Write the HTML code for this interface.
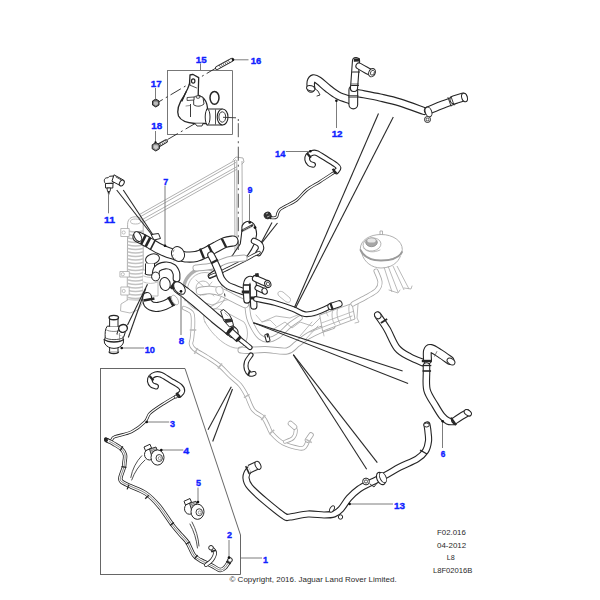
<!DOCTYPE html>
<html><head><meta charset="utf-8"><style>
html,body{margin:0;padding:0;background:#fff;width:600px;height:600px;overflow:hidden}
svg{display:block}
text{font-family:"Liberation Sans",sans-serif}
</style></head><body>
<svg width="600" height="600" viewBox="0 0 600 600">
<rect width="600" height="600" fill="#fff"/>
<line x1="140" y1="214.2" x2="236" y2="159.7" stroke="#a8a8a8" stroke-width="0.9"/>
<line x1="140" y1="216.9" x2="236" y2="162.4" stroke="#a8a8a8" stroke-width="0.9"/>
<line x1="141.5" y1="220" x2="237" y2="166.6" stroke="#a8a8a8" stroke-width="0.9"/>
<line x1="142.5" y1="222.6" x2="237" y2="169.2" stroke="#a8a8a8" stroke-width="0.9"/>
<line x1="234.5" y1="160" x2="235" y2="252" stroke="#a8a8a8" stroke-width="0.9"/>
<line x1="236.8" y1="160" x2="237" y2="250" stroke="#a8a8a8" stroke-width="0.9"/>
<line x1="242" y1="161" x2="242.5" y2="248" stroke="#a8a8a8" stroke-width="0.9"/>
<path d="M233,160 L236,157 L243,158 L244,162 L242,164" stroke="#a8a8a8" stroke-width="0.9" fill="none" stroke-linejoin="round" stroke-linecap="round"/>
<path d="M127.6,224 C127.6,219 131,216.8 135.5,216.8 C140,216.8 143.2,219 143.2,224 L143.2,300 L127.6,300 Z" stroke="#a8a8a8" stroke-width="0.9" fill="#fff" stroke-linejoin="round" stroke-linecap="round"/>
<ellipse cx="135.5" cy="221.5" rx="5" ry="2.5" stroke="#a8a8a8" stroke-width="0.8" fill="#fff"/>
<path d="M128.3,231.0 Q135.5,233.2 142.7,231.0" stroke="#c2c2c2" stroke-width="1.5" fill="none" stroke-linejoin="round" stroke-linecap="round"/>
<path d="M128.3,234.5 Q135.5,236.7 142.7,234.5" stroke="#c2c2c2" stroke-width="1.5" fill="none" stroke-linejoin="round" stroke-linecap="round"/>
<path d="M128.3,238.0 Q135.5,240.2 142.7,238.0" stroke="#c2c2c2" stroke-width="1.5" fill="none" stroke-linejoin="round" stroke-linecap="round"/>
<path d="M128.3,241.5 Q135.5,243.7 142.7,241.5" stroke="#c2c2c2" stroke-width="1.5" fill="none" stroke-linejoin="round" stroke-linecap="round"/>
<path d="M128.3,245.0 Q135.5,247.2 142.7,245.0" stroke="#c2c2c2" stroke-width="1.5" fill="none" stroke-linejoin="round" stroke-linecap="round"/>
<path d="M128.3,248.5 Q135.5,250.7 142.7,248.5" stroke="#c2c2c2" stroke-width="1.5" fill="none" stroke-linejoin="round" stroke-linecap="round"/>
<path d="M128.3,252.0 Q135.5,254.2 142.7,252.0" stroke="#c2c2c2" stroke-width="1.5" fill="none" stroke-linejoin="round" stroke-linecap="round"/>
<path d="M128.3,255.5 Q135.5,257.7 142.7,255.5" stroke="#c2c2c2" stroke-width="1.5" fill="none" stroke-linejoin="round" stroke-linecap="round"/>
<path d="M128.3,259.0 Q135.5,261.2 142.7,259.0" stroke="#c2c2c2" stroke-width="1.5" fill="none" stroke-linejoin="round" stroke-linecap="round"/>
<path d="M128.3,262.5 Q135.5,264.7 142.7,262.5" stroke="#c2c2c2" stroke-width="1.5" fill="none" stroke-linejoin="round" stroke-linecap="round"/>
<path d="M128.3,266.0 Q135.5,268.2 142.7,266.0" stroke="#c2c2c2" stroke-width="1.5" fill="none" stroke-linejoin="round" stroke-linecap="round"/>
<path d="M128.3,269.5 Q135.5,271.7 142.7,269.5" stroke="#c2c2c2" stroke-width="1.5" fill="none" stroke-linejoin="round" stroke-linecap="round"/>
<path d="M128.3,273.0 Q135.5,275.2 142.7,273.0" stroke="#c2c2c2" stroke-width="1.5" fill="none" stroke-linejoin="round" stroke-linecap="round"/>
<path d="M128.3,276.5 Q135.5,278.7 142.7,276.5" stroke="#c2c2c2" stroke-width="1.5" fill="none" stroke-linejoin="round" stroke-linecap="round"/>
<path d="M128.3,280.0 Q135.5,282.2 142.7,280.0" stroke="#c2c2c2" stroke-width="1.5" fill="none" stroke-linejoin="round" stroke-linecap="round"/>
<path d="M128.3,283.5 Q135.5,285.7 142.7,283.5" stroke="#c2c2c2" stroke-width="1.5" fill="none" stroke-linejoin="round" stroke-linecap="round"/>
<path d="M128.3,287.0 Q135.5,289.2 142.7,287.0" stroke="#c2c2c2" stroke-width="1.5" fill="none" stroke-linejoin="round" stroke-linecap="round"/>
<path d="M128.3,290.5 Q135.5,292.7 142.7,290.5" stroke="#c2c2c2" stroke-width="1.5" fill="none" stroke-linejoin="round" stroke-linecap="round"/>
<path d="M128.3,294.0 Q135.5,296.2 142.7,294.0" stroke="#c2c2c2" stroke-width="1.5" fill="none" stroke-linejoin="round" stroke-linecap="round"/>
<path d="M128.3,297.5 Q135.5,299.7 142.7,297.5" stroke="#c2c2c2" stroke-width="1.5" fill="none" stroke-linejoin="round" stroke-linecap="round"/>
<path d="M121.2,228.5 L129.2,228.5 L129.2,236.5 L121.2,236.5 Z" stroke="#a8a8a8" stroke-width="0.8" fill="#fff" stroke-linejoin="round" stroke-linecap="round"/>
<ellipse cx="123.7" cy="232.5" rx="1.6" ry="1.6" stroke="#a8a8a8" stroke-width="0.7" fill="#fff"/>
<path d="M120.3,271.5 L129.3,271.5 L129.3,277.0 L120.3,277.0 Z" stroke="#a8a8a8" stroke-width="0.8" fill="#fff" stroke-linejoin="round" stroke-linecap="round"/>
<ellipse cx="122.8" cy="274.25" rx="1.6" ry="1.6" stroke="#a8a8a8" stroke-width="0.7" fill="#fff"/>
<path d="M121.2,287 L129.2,287 L129.2,295 L121.2,295 Z" stroke="#a8a8a8" stroke-width="0.8" fill="#fff" stroke-linejoin="round" stroke-linecap="round"/>
<ellipse cx="123.7" cy="291.0" rx="1.6" ry="1.6" stroke="#a8a8a8" stroke-width="0.7" fill="#fff"/>
<path d="M127.6,300 L121,304 L120.5,311 L130,313 L138,310 L143.2,302" stroke="#a8a8a8" stroke-width="0.8" fill="#fff" stroke-linejoin="round" stroke-linecap="round"/>
<path d="M143,270 L158,270 L158,296 L143,296" stroke="#a8a8a8" stroke-width="0.8" fill="#fff" stroke-linejoin="round" stroke-linecap="round"/>
<path d="M143.5,276 Q150.5,279 157.5,276 M143.5,282 Q150.5,285 157.5,282" stroke="#a8a8a8" stroke-width="0.7" fill="none" stroke-linejoin="round" stroke-linecap="round"/>
<circle cx="205" cy="290" r="21.5" stroke="#a8a8a8" stroke-width="0.8" fill="#fff"/>
<path d="M186.4,300.75 A21.5,21.5 0 0 1 212.4,269.8" stroke="#b0b0b0" stroke-width="3.4" fill="none"/>
<circle cx="205" cy="290" r="17.5" stroke="#a8a8a8" stroke-width="0.8" fill="none"/>
<circle cx="203" cy="288" r="7" stroke="#a8a8a8" stroke-width="0.8" fill="none"/>
<path d="M196,280 L214,296 M200,296 L212,282" stroke="#a8a8a8" stroke-width="0.7" fill="none" stroke-linejoin="round" stroke-linecap="round"/>
<path d="M241.0,350.0 C242.2,350.1 244.0,350.6 248.0,350.5 C252.0,350.4 258.5,349.4 265.0,349.5 C271.5,349.6 281.7,351.9 287.0,351.0 C292.3,350.1 293.5,346.5 297.0,344.0 C300.5,341.5 304.2,338.3 308.0,336.0 C311.8,333.7 316.0,331.7 320.0,330.0 C324.0,328.3 330.0,326.7 332.0,326.0" stroke="#a8a8a8" stroke-width="7.00" fill="none" stroke-linecap="round" stroke-linejoin="round"/>
<path d="M241.0,350.0 C242.2,350.1 244.0,350.6 248.0,350.5 C252.0,350.4 258.5,349.4 265.0,349.5 C271.5,349.6 281.7,351.9 287.0,351.0 C292.3,350.1 293.5,346.5 297.0,344.0 C300.5,341.5 304.2,338.3 308.0,336.0 C311.8,333.7 316.0,331.7 320.0,330.0 C324.0,328.3 330.0,326.7 332.0,326.0" stroke="#fff" stroke-width="5.20" fill="none" stroke-linecap="round" stroke-linejoin="round"/>
<path d="M247.0,304.0 C247.3,306.3 247.8,313.8 249.0,318.0 C250.2,322.2 252.2,325.8 254.0,329.0 C255.8,332.2 257.7,335.2 260.0,337.0 C262.3,338.8 265.0,340.2 268.0,340.0 C271.0,339.8 274.3,338.5 278.0,336.0 C281.7,333.5 286.3,328.0 290.0,325.0 C293.7,322.0 298.3,319.2 300.0,318.0" stroke="#a8a8a8" stroke-width="5.50" fill="none" stroke-linecap="round" stroke-linejoin="round"/>
<path d="M247.0,304.0 C247.3,306.3 247.8,313.8 249.0,318.0 C250.2,322.2 252.2,325.8 254.0,329.0 C255.8,332.2 257.7,335.2 260.0,337.0 C262.3,338.8 265.0,340.2 268.0,340.0 C271.0,339.8 274.3,338.5 278.0,336.0 C281.7,333.5 286.3,328.0 290.0,325.0 C293.7,322.0 298.3,319.2 300.0,318.0" stroke="#fff" stroke-width="3.80" fill="none" stroke-linecap="round" stroke-linejoin="round"/>
<path d="M205,322 C200,312 210,306 222,310 L244,322 C250,330 248,345 240,348 C228,350 212,335 205,322 Z" stroke="#a8a8a8" stroke-width="0.8" fill="none" stroke-linejoin="round" stroke-linecap="round"/>
<path d="M196,300 L212,305 L226,300 L240,298" stroke="#a8a8a8" stroke-width="0.8" fill="none" stroke-linejoin="round" stroke-linecap="round"/>
<path d="M262,322 L276,316 L290,318 L300,314 L315,316" stroke="#a8a8a8" stroke-width="0.8" fill="none" stroke-linejoin="round" stroke-linecap="round"/>
<path d="M272,330 L285,322 L292,328 L300,322 L312,326 L320,318" stroke="#a8a8a8" stroke-width="0.8" fill="none" stroke-linejoin="round" stroke-linecap="round"/>
<path d="M300,336 L312,322 M305,340 L318,326" stroke="#a8a8a8" stroke-width="0.8" fill="none" stroke-linejoin="round" stroke-linecap="round"/>
<path d="M279,296 C276,293 279,290 283,292 L290,298 C292,302 288,304 285,301 Z" stroke="#a8a8a8" stroke-width="0.8" fill="none" stroke-linejoin="round" stroke-linecap="round"/>
<path d="M256,315 L262,322 L270,320 L276,326" stroke="#a8a8a8" stroke-width="0.7" fill="none" stroke-linejoin="round" stroke-linecap="round"/>
<path d="M200.0,291.0 C201.7,290.8 206.3,289.8 210.0,290.0 C213.7,290.2 218.2,291.2 222.0,292.5 C225.8,293.8 229.2,296.1 233.0,298.0 C236.8,299.9 243.0,303.0 245.0,304.0" stroke="#a8a8a8" stroke-width="8.50" fill="none" stroke-linecap="round" stroke-linejoin="round"/>
<path d="M200.0,291.0 C201.7,290.8 206.3,289.8 210.0,290.0 C213.7,290.2 218.2,291.2 222.0,292.5 C225.8,293.8 229.2,296.1 233.0,298.0 C236.8,299.9 243.0,303.0 245.0,304.0" stroke="#fff" stroke-width="6.70" fill="none" stroke-linecap="round" stroke-linejoin="round"/>
<ellipse cx="219.5" cy="290.5" rx="3.5" ry="4.2" stroke="#a8a8a8" stroke-width="0.8" fill="#fff" transform="rotate(-20 219.5 290.5)"/>
<line x1="224.5" y1="293.5" x2="225" y2="296.5" stroke="#333" stroke-width="1.0"/>
<path d="M320,315 L352,303.5 L355,319 L323,331 Z" stroke="#a8a8a8" stroke-width="0.9" fill="#fff" stroke-linejoin="round" stroke-linecap="round"/>
<path d="M321.5,323 L353.5,311.3" stroke="#a8a8a8" stroke-width="0.7" fill="none" stroke-linejoin="round" stroke-linecap="round"/>
<path d="M333,310.5 C331,313 332,321 335,325 M338,308.5 C336,311 337,319 340,323.5" stroke="#a8a8a8" stroke-width="0.8" fill="none" stroke-linejoin="round" stroke-linecap="round"/>
<path d="M349.5,304.5 C348,307 349,315 351,320 M353,303 L356,301 L358,304 L357,318 L359,322 L355,323" stroke="#a8a8a8" stroke-width="0.8" fill="none" stroke-linejoin="round" stroke-linecap="round"/>
<path d="M310,332 L352,316" stroke="#a8a8a8" stroke-width="0.8" fill="none" stroke-linejoin="round" stroke-linecap="round"/>
<path d="M323,331 L324,336 M328,316 L326,312 L330,308" stroke="#a8a8a8" stroke-width="0.7" fill="none" stroke-linejoin="round" stroke-linecap="round"/>
<path d="M362,254 C364,262 372,268 381,268 C391,268 398,263 400.5,256" stroke="#a8a8a8" stroke-width="0.9" fill="#fff" stroke-linejoin="round" stroke-linecap="round"/>
<path d="M360.3,249 C360.3,240 370,234.5 381,234.5 C393,234.5 402.3,241 402.3,249.5 C402.3,256 392,260.5 381,260.5 C370,260.5 360.3,256 360.3,249 Z" fill="#fff" stroke="#a8a8a8" stroke-width="0.9"/>
<path d="M360.5,250 C364,257 372,260.5 381,260.5 C391,260.5 399,258 402,252" stroke="#9a9a9a" stroke-width="1.8" fill="none" stroke-linejoin="round" stroke-linecap="round"/>
<ellipse cx="372" cy="244.5" rx="9" ry="6.5" stroke="#a8a8a8" stroke-width="0.8" fill="none" transform="rotate(-8 372 244.5)"/>
<path d="M363.5,248 C367,252.5 374,253 380,250" stroke="#a8a8a8" stroke-width="0.8" fill="none" stroke-linejoin="round" stroke-linecap="round"/>
<ellipse cx="371.5" cy="242.3" rx="5.8" ry="4.4" fill="#a6a6a6" stroke="#8a8a8a" stroke-width="0.8"/>
<ellipse cx="371.5" cy="240.4" rx="4.2" ry="2.2" fill="#e6e6e6"/>
<path d="M380,234.5 L380,231 L382.5,231 L382.5,234.5" stroke="#a8a8a8" stroke-width="0.9" fill="none" stroke-linejoin="round" stroke-linecap="round"/>
<line x1="384" y1="267" x2="392" y2="292" stroke="#a8a8a8" stroke-width="0.8"/>
<line x1="388" y1="266" x2="398" y2="292" stroke="#a8a8a8" stroke-width="0.8"/>
<line x1="393" y1="266" x2="404" y2="290" stroke="#a8a8a8" stroke-width="0.8"/>
<line x1="397" y1="266" x2="409" y2="289" stroke="#a8a8a8" stroke-width="0.8"/>
<path d="M389,290 L398,293 L400,290" stroke="#a8a8a8" stroke-width="0.8" fill="none" stroke-linejoin="round" stroke-linecap="round"/>
<path d="M404,288 L411,289 L412,286" stroke="#a8a8a8" stroke-width="0.8" fill="none" stroke-linejoin="round" stroke-linecap="round"/>
<path d="M376.0,271.0 C376.7,272.8 379.8,278.8 380.0,282.0 C380.2,285.2 379.3,287.5 377.0,290.0 C374.7,292.5 370.0,294.7 366.0,297.0 C362.0,299.3 355.2,302.8 353.0,304.0" stroke="#a8a8a8" stroke-width="5.00" fill="none" stroke-linecap="round" stroke-linejoin="round"/>
<path d="M376.0,271.0 C376.7,272.8 379.8,278.8 380.0,282.0 C380.2,285.2 379.3,287.5 377.0,290.0 C374.7,292.5 370.0,294.7 366.0,297.0 C362.0,299.3 355.2,302.8 353.0,304.0" stroke="#fff" stroke-width="3.40" fill="none" stroke-linecap="round" stroke-linejoin="round"/>
<path d="M184.0,308.0 C185.3,308.8 190.5,310.2 192.0,313.0 C193.5,315.8 193.0,320.8 193.0,325.0 C193.0,329.2 192.3,334.8 192.0,338.0 C191.7,341.2 190.7,342.2 191.0,344.0 C191.3,345.8 191.3,346.8 194.0,349.0 C196.7,351.2 202.7,354.2 207.0,357.0 C211.3,359.8 216.2,362.8 220.0,366.0 C223.8,369.2 226.7,372.8 230.0,376.0 C233.3,379.2 237.2,381.7 240.0,385.0 C242.8,388.3 244.5,391.6 246.7,395.8 C248.9,400.0 250.5,406.4 253.3,410.0 C256.1,413.6 260.8,414.7 263.3,417.5 C265.8,420.3 266.9,424.1 268.3,426.7 C269.7,429.3 269.2,430.5 271.7,433.3 C274.2,436.1 278.6,440.8 283.3,443.3 C288.0,445.8 296.4,447.7 300.0,448.3 C303.6,448.9 303.6,448.1 305.0,446.7 C306.4,445.3 307.6,441.6 308.3,440.0 C309.1,438.4 309.3,437.5 309.5,437.0" stroke="#a8a8a8" stroke-width="4.40" fill="none" stroke-linecap="round" stroke-linejoin="round"/>
<path d="M184.0,308.0 C185.3,308.8 190.5,310.2 192.0,313.0 C193.5,315.8 193.0,320.8 193.0,325.0 C193.0,329.2 192.3,334.8 192.0,338.0 C191.7,341.2 190.7,342.2 191.0,344.0 C191.3,345.8 191.3,346.8 194.0,349.0 C196.7,351.2 202.7,354.2 207.0,357.0 C211.3,359.8 216.2,362.8 220.0,366.0 C223.8,369.2 226.7,372.8 230.0,376.0 C233.3,379.2 237.2,381.7 240.0,385.0 C242.8,388.3 244.5,391.6 246.7,395.8 C248.9,400.0 250.5,406.4 253.3,410.0 C256.1,413.6 260.8,414.7 263.3,417.5 C265.8,420.3 266.9,424.1 268.3,426.7 C269.7,429.3 269.2,430.5 271.7,433.3 C274.2,436.1 278.6,440.8 283.3,443.3 C288.0,445.8 296.4,447.7 300.0,448.3 C303.6,448.9 303.6,448.1 305.0,446.7 C306.4,445.3 307.6,441.6 308.3,440.0 C309.1,438.4 309.3,437.5 309.5,437.0" stroke="#fff" stroke-width="2.80" fill="none" stroke-linecap="round" stroke-linejoin="round"/>
<path d="M285.0,441.7 C286.3,441.1 291.2,439.9 293.0,438.0 C294.8,436.1 295.8,432.2 295.8,430.0 C295.8,427.8 293.5,425.8 293.0,425.0" stroke="#a8a8a8" stroke-width="4.00" fill="none" stroke-linecap="round" stroke-linejoin="round"/>
<path d="M285.0,441.7 C286.3,441.1 291.2,439.9 293.0,438.0 C294.8,436.1 295.8,432.2 295.8,430.0 C295.8,427.8 293.5,425.8 293.0,425.0" stroke="#fff" stroke-width="2.40" fill="none" stroke-linecap="round" stroke-linejoin="round"/>
<path d="M307.5,440.0 L311.0,435.0" stroke="#a8a8a8" stroke-width="5.50" fill="none" stroke-linecap="round" stroke-linejoin="round"/>
<path d="M307.5,440.0 L311.0,435.0" stroke="#fff" stroke-width="3.90" fill="none" stroke-linecap="round" stroke-linejoin="round"/>
<path d="M294.5,427.0 L290.5,423.5" stroke="#a8a8a8" stroke-width="5.50" fill="none" stroke-linecap="round" stroke-linejoin="round"/>
<path d="M294.5,427.0 L290.5,423.5" stroke="#fff" stroke-width="3.90" fill="none" stroke-linecap="round" stroke-linejoin="round"/>
<rect x="195.20" y="347.75" width="1.6" height="6.5" fill="#bbb" transform="rotate(30 196 351)"/>
<rect x="219.20" y="362.75" width="1.6" height="6.5" fill="#bbb" transform="rotate(40 220 366)"/>
<rect x="245.90" y="392.75" width="1.6" height="6.5" fill="#bbb" transform="rotate(60 246.7 396)"/>
<rect x="262.50" y="414.25" width="1.6" height="6.5" fill="#bbb" transform="rotate(40 263.3 417.5)"/>
<rect x="270.90" y="428.75" width="1.6" height="6.5" fill="#bbb" transform="rotate(50 271.7 432)"/>
<rect x="192.20" y="326.75" width="1.6" height="6.5" fill="#bbb" transform="rotate(90 193 330)"/>
<rect x="308.20" y="437.75" width="1.6" height="6.5" fill="#bbb" transform="rotate(-60 309 441)"/>
<path d="M311.0,88.5 C311.0,87.4 310.4,83.7 310.8,82.0 C311.2,80.3 312.2,78.8 313.5,78.5 C314.8,78.2 316.1,78.8 318.5,80.5 C320.9,82.2 324.8,86.0 328.0,88.5 C331.2,91.0 334.3,93.6 338.0,95.5 C341.7,97.4 348.0,99.2 350.0,100.0" stroke="#262626" stroke-width="8.60" fill="none" stroke-linecap="round" stroke-linejoin="round"/>
<path d="M311.0,88.5 C311.0,87.4 310.4,83.7 310.8,82.0 C311.2,80.3 312.2,78.8 313.5,78.5 C314.8,78.2 316.1,78.8 318.5,80.5 C320.9,82.2 324.8,86.0 328.0,88.5 C331.2,91.0 334.3,93.6 338.0,95.5 C341.7,97.4 348.0,99.2 350.0,100.0" stroke="#fff" stroke-width="6.40" fill="none" stroke-linecap="round" stroke-linejoin="round"/>
<ellipse cx="310.8" cy="88.3" rx="4.3" ry="2.6" stroke="#262626" stroke-width="1.0" fill="#fff" transform="rotate(15 310.8 88.3)"/>
<path d="M314,88 L318,91 L320,95 L317,96" stroke="#262626" stroke-width="0.9" fill="none" stroke-linejoin="round" stroke-linecap="round"/>
<path d="M357.0,93.0 C360.8,93.8 372.8,95.9 380.0,97.5 C387.2,99.1 392.7,100.2 400.0,102.5 C407.3,104.8 420.0,109.6 424.0,111.0" stroke="#262626" stroke-width="8.20" fill="none" stroke-linecap="round" stroke-linejoin="round"/>
<path d="M357.0,93.0 C360.8,93.8 372.8,95.9 380.0,97.5 C387.2,99.1 392.7,100.2 400.0,102.5 C407.3,104.8 420.0,109.6 424.0,111.0" stroke="#fff" stroke-width="6.00" fill="none" stroke-linecap="round" stroke-linejoin="round"/>
<path d="M353.3,90.0 L353.3,104.5" stroke="#262626" stroke-width="9.80" fill="none" stroke-linecap="round" stroke-linejoin="round"/>
<path d="M353.3,90.0 L353.3,104.5" stroke="#fff" stroke-width="7.60" fill="none" stroke-linecap="round" stroke-linejoin="round"/>
<path d="M356.0,61.0 C355.8,63.3 355.3,70.5 355.0,75.0 C354.7,79.5 354.2,85.8 354.0,88.0" stroke="#262626" stroke-width="8.20" fill="none" stroke-linecap="round" stroke-linejoin="round"/>
<path d="M356.0,61.0 C355.8,63.3 355.3,70.5 355.0,75.0 C354.7,79.5 354.2,85.8 354.0,88.0" stroke="#fff" stroke-width="6.00" fill="none" stroke-linecap="round" stroke-linejoin="round"/>
<path d="M352.5,72 L359.5,72 M351.5,85.5 L358.5,85.5 M349,97 L358,97" stroke="#262626" stroke-width="1.1" fill="none" stroke-linejoin="round" stroke-linecap="round"/>
<path d="M351.5,84 L358.5,84 M349,95.5 L358,95.5" stroke="#262626" stroke-width="0.7" fill="none" stroke-linejoin="round" stroke-linecap="round"/>
<path d="M359.0,66.0 C360.2,66.7 364.0,68.9 366.0,70.0 C368.0,71.1 370.2,72.1 371.0,72.5" stroke="#262626" stroke-width="7.20" fill="none" stroke-linecap="round" stroke-linejoin="round"/>
<path d="M359.0,66.0 C360.2,66.7 364.0,68.9 366.0,70.0 C368.0,71.1 370.2,72.1 371.0,72.5" stroke="#fff" stroke-width="5.00" fill="none" stroke-linecap="round" stroke-linejoin="round"/>
<ellipse cx="372" cy="72.7" rx="3.2" ry="4.3" stroke="#262626" stroke-width="1.0" fill="#fff" transform="rotate(25 372 72.7)"/>
<ellipse cx="372.4" cy="72.7" rx="1.8" ry="2.6" stroke="#262626" stroke-width="0.8" fill="#fff" transform="rotate(25 372.4 72.7)"/>
<path d="M353.8,58.5 L359.8,58.3 L360.2,61.5 L353.8,61.8 Z" fill="#262626"/>
<path d="M428.0,110.5 C430.5,109.5 438.5,106.2 443.0,104.5 C447.5,102.8 453.0,100.8 455.0,100.0" stroke="#262626" stroke-width="8.40" fill="none" stroke-linecap="round" stroke-linejoin="round"/>
<path d="M428.0,110.5 C430.5,109.5 438.5,106.2 443.0,104.5 C447.5,102.8 453.0,100.8 455.0,100.0" stroke="#fff" stroke-width="6.20" fill="none" stroke-linecap="round" stroke-linejoin="round"/>
<path d="M454.0,99.8 L463.0,97.2" stroke="#262626" stroke-width="9.20" fill="none" stroke-linecap="round" stroke-linejoin="round"/>
<path d="M454.0,99.8 L463.0,97.2" stroke="#fff" stroke-width="7.00" fill="none" stroke-linecap="round" stroke-linejoin="round"/>
<ellipse cx="464.5" cy="97.5" rx="2.8" ry="4.4" stroke="#262626" stroke-width="1.0" fill="#fff" transform="rotate(-15 464.5 97.5)"/>
<path d="M448,97.5 L451,106 M451,96.5 L454,105" stroke="#262626" stroke-width="0.9" fill="none" stroke-linejoin="round" stroke-linecap="round"/>
<ellipse cx="428.5" cy="112" rx="3.2" ry="5" stroke="#262626" stroke-width="1.0" fill="#fff" transform="rotate(-20 428.5 112)"/>
<ellipse cx="427.5" cy="119.5" rx="3.0" ry="3.0" stroke="#262626" stroke-width="1.0" fill="#fff"/>
<ellipse cx="427.5" cy="119.5" rx="1.4" ry="1.4" stroke="#262626" stroke-width="0.8" fill="#fff"/>
<path d="M334.0,172.5 C331.7,174.0 324.6,178.8 320.0,181.7 C315.4,184.6 310.6,186.9 306.7,190.0 C302.8,193.1 300.3,197.2 296.7,200.0 C293.1,202.8 287.8,204.9 285.0,206.5 C282.2,208.1 281.2,208.4 280.0,209.5 C278.8,210.6 278.4,211.8 277.8,213.0 C277.2,214.2 277.5,216.2 276.5,217.0 C275.5,217.8 273.4,218.0 272.0,217.8 C270.6,217.6 268.7,216.3 268.0,216.0" stroke="#262626" stroke-width="2.90" fill="none" stroke-linecap="round" stroke-linejoin="round"/>
<path d="M334.0,172.5 C331.7,174.0 324.6,178.8 320.0,181.7 C315.4,184.6 310.6,186.9 306.7,190.0 C302.8,193.1 300.3,197.2 296.7,200.0 C293.1,202.8 287.8,204.9 285.0,206.5 C282.2,208.1 281.2,208.4 280.0,209.5 C278.8,210.6 278.4,211.8 277.8,213.0 C277.2,214.2 277.5,216.2 276.5,217.0 C275.5,217.8 273.4,218.0 272.0,217.8 C270.6,217.6 268.7,216.3 268.0,216.0" stroke="#fff" stroke-width="1.30" fill="none" stroke-linecap="round" stroke-linejoin="round"/>
<path d="M313.0,164.8 C312.4,164.6 310.5,164.4 309.5,163.5 C308.5,162.6 307.4,160.8 307.2,159.5 C306.9,158.2 307.3,156.9 308.0,155.8 C308.7,154.8 310.1,153.7 311.5,153.2 C312.9,152.7 313.9,152.0 316.5,153.0 C319.1,154.0 323.8,157.3 327.0,159.3 C330.2,161.3 334.1,163.6 336.0,165.0 C337.9,166.4 338.4,166.9 338.5,168.0 C338.6,169.1 336.7,170.8 336.3,171.3" stroke="#262626" stroke-width="5.90" fill="none" stroke-linecap="round" stroke-linejoin="round"/>
<path d="M313.0,164.8 C312.4,164.6 310.5,164.4 309.5,163.5 C308.5,162.6 307.4,160.8 307.2,159.5 C306.9,158.2 307.3,156.9 308.0,155.8 C308.7,154.8 310.1,153.7 311.5,153.2 C312.9,152.7 313.9,152.0 316.5,153.0 C319.1,154.0 323.8,157.3 327.0,159.3 C330.2,161.3 334.1,163.6 336.0,165.0 C337.9,166.4 338.4,166.9 338.5,168.0 C338.6,169.1 336.7,170.8 336.3,171.3" stroke="#fff" stroke-width="3.70" fill="none" stroke-linecap="round" stroke-linejoin="round"/>
<rect x="307.90" y="152.55" width="2.2" height="5.9" fill="#262626" transform="rotate(-40 309 155.5)"/>
<rect x="333.40" y="168.20" width="2.2" height="6" fill="#262626" transform="rotate(-40 334.5 171.2)"/>
<ellipse cx="267.6" cy="215.4" rx="3.4" ry="3.3" fill="#333" stroke="#262626" stroke-width="0.9" transform="rotate(-30 267.6 215.4)"/>
<path d="M266,214 L268,213 M267,217 L269.5,216" stroke="#ddd" stroke-width="0.7"/>
<rect x="270.20" y="215.50" width="1.2" height="3.6" fill="#262626" transform="rotate(15 270.8 217.3)"/>
<path d="M242,229 C241,224 246,220.5 250,221.5 C253,222.5 255,225 255.5,228 C256.5,231 256.8,234 256.3,236 C255.5,241 254.5,244 253.7,245 C252,249 250,252 248.3,254.3 C246.5,256.5 245,258.2 243,259.7 L230,268 L218,275 L210.5,278.3 C209,278.8 207.5,276 208.5,274.5 L215,270 L224.3,263.7 C228,260 230,258 232.3,255.7 C236,250 239,246 240.3,243.7 C241,239 241.5,235 242,229 Z" stroke="#262626" stroke-width="1.1" fill="#fff" stroke-linejoin="round" stroke-linecap="round"/>
<path d="M241,230 L252.5,224 L253.5,226 L242,232 Z" fill="#333"/>
<path d="M243,230 L251,226 M244,231.2 L252,227.2" stroke="#ccc" stroke-width="0.6"/>
<circle cx="255" cy="227.6" r="1.4" fill="#111"/>
<path d="M254.0,241.0 C254.9,241.5 258.3,242.8 259.5,244.0 C260.7,245.2 261.2,247.0 261.0,248.5 C260.8,250.0 258.9,252.2 258.5,253.0" stroke="#262626" stroke-width="6.50" fill="none" stroke-linecap="round" stroke-linejoin="round"/>
<path d="M254.0,241.0 C254.9,241.5 258.3,242.8 259.5,244.0 C260.7,245.2 261.2,247.0 261.0,248.5 C260.8,250.0 258.9,252.2 258.5,253.0" stroke="#fff" stroke-width="4.30" fill="none" stroke-linecap="round" stroke-linejoin="round"/>
<path d="M259.0,252.5 C258.3,252.8 258.2,252.8 255.0,254.5 C251.8,256.2 245.2,259.8 240.0,262.5 C234.8,265.2 229.0,268.2 224.0,270.5 C219.0,272.8 212.3,275.5 210.0,276.5" stroke="#262626" stroke-width="3.40" fill="none" stroke-linecap="round" stroke-linejoin="round"/>
<path d="M259.0,252.5 C258.3,252.8 258.2,252.8 255.0,254.5 C251.8,256.2 245.2,259.8 240.0,262.5 C234.8,265.2 229.0,268.2 224.0,270.5 C219.0,272.8 212.3,275.5 210.0,276.5" stroke="#fff" stroke-width="1.80" fill="none" stroke-linecap="round" stroke-linejoin="round"/>
<path d="M196.0,268.0 C198.7,267.7 206.7,267.3 212.0,266.0 C217.3,264.7 222.7,261.3 228.0,260.0 C233.3,258.7 241.3,258.3 244.0,258.0" stroke="#a8a8a8" stroke-width="7.00" fill="none" stroke-linecap="round" stroke-linejoin="round"/>
<path d="M196.0,268.0 C198.7,267.7 206.7,267.3 212.0,266.0 C217.3,264.7 222.7,261.3 228.0,260.0 C233.3,258.7 241.3,258.3 244.0,258.0" stroke="#fff" stroke-width="5.20" fill="none" stroke-linecap="round" stroke-linejoin="round"/>
<path d="M138.0,237.0 C139.2,237.6 142.7,239.2 145.0,240.5 C147.3,241.8 149.5,243.1 152.0,244.5 C154.5,245.9 157.3,247.7 160.0,249.0 C162.7,250.3 165.2,251.5 168.0,252.5 C170.8,253.5 173.8,254.2 177.0,255.0 C180.2,255.8 183.8,256.8 187.0,257.0 C190.2,257.2 192.8,257.2 196.0,256.5 C199.2,255.8 202.7,254.1 206.0,252.5 C209.3,250.9 212.8,248.7 216.0,247.0 C219.2,245.3 222.2,243.5 225.0,242.5 C227.8,241.5 231.7,241.2 233.0,241.0" stroke="#262626" stroke-width="11.20" fill="none" stroke-linecap="round" stroke-linejoin="round"/>
<path d="M138.0,237.0 C139.2,237.6 142.7,239.2 145.0,240.5 C147.3,241.8 149.5,243.1 152.0,244.5 C154.5,245.9 157.3,247.7 160.0,249.0 C162.7,250.3 165.2,251.5 168.0,252.5 C170.8,253.5 173.8,254.2 177.0,255.0 C180.2,255.8 183.8,256.8 187.0,257.0 C190.2,257.2 192.8,257.2 196.0,256.5 C199.2,255.8 202.7,254.1 206.0,252.5 C209.3,250.9 212.8,248.7 216.0,247.0 C219.2,245.3 222.2,243.5 225.0,242.5 C227.8,241.5 231.7,241.2 233.0,241.0" stroke="#fff" stroke-width="9.00" fill="none" stroke-linecap="round" stroke-linejoin="round"/>
<ellipse cx="137.8" cy="236.6" rx="3.2" ry="5.3" stroke="#262626" stroke-width="1.0" fill="#fff" transform="rotate(-30 137.8 236.6)"/>
<rect x="142.20" y="234.25" width="2.6" height="10.5" fill="#262626" transform="rotate(27 143.5 239.5)"/>
<rect x="146.70" y="236.75" width="2.6" height="10.5" fill="#262626" transform="rotate(27 148 242)"/>
<rect x="152.20" y="239.25" width="1.6" height="10.5" fill="#262626" transform="rotate(27 153 244.5)"/>
<path d="M151,234.5 L158.5,233.5 L160.5,238.5 L154,240 Z" fill="#fff" stroke="#262626" stroke-width="1"/>
<rect x="200.80" y="248.25" width="2.4" height="10.5" fill="#262626" transform="rotate(-22 202 253.5)"/>
<rect x="209.30" y="244.25" width="2.4" height="10.5" fill="#262626" transform="rotate(-26 210.5 249.5)"/>
<rect x="222.80" y="238.25" width="2.4" height="9.5" fill="#262626" transform="rotate(-27 224 243)"/>
<ellipse cx="178" cy="254" rx="6.3" ry="7.6" stroke="#262626" stroke-width="1.0" fill="#fff" transform="rotate(-25 178 254)"/>
<path d="M174,250 L173,252 M173,255 L172,257 M175,259 L174,261" stroke="#555" stroke-width="0.7" fill="none" stroke-linejoin="round" stroke-linecap="round"/>
<path d="M211.0,255.0 C211.7,256.3 213.8,260.3 215.0,263.0 C216.2,265.7 217.4,268.3 218.5,271.0 C219.6,273.7 220.1,276.7 221.5,279.0 C222.9,281.3 224.8,283.4 227.0,285.0 C229.2,286.6 232.3,287.4 235.0,288.5 C237.7,289.6 241.7,291.0 243.0,291.5" stroke="#262626" stroke-width="7.60" fill="none" stroke-linecap="round" stroke-linejoin="round"/>
<path d="M211.0,255.0 C211.7,256.3 213.8,260.3 215.0,263.0 C216.2,265.7 217.4,268.3 218.5,271.0 C219.6,273.7 220.1,276.7 221.5,279.0 C222.9,281.3 224.8,283.4 227.0,285.0 C229.2,286.6 232.3,287.4 235.0,288.5 C237.7,289.6 241.7,291.0 243.0,291.5" stroke="#fff" stroke-width="5.40" fill="none" stroke-linecap="round" stroke-linejoin="round"/>
<rect x="213.40" y="257.75" width="2.2" height="7.5" fill="#262626" transform="rotate(63 214.5 261.5)"/>
<path d="M247.0,300.0 C246.9,297.5 246.1,288.4 246.5,285.0 C246.9,281.6 248.4,279.8 249.5,279.5 C250.6,279.2 252.3,279.9 253.0,283.0 C253.7,286.1 253.4,294.2 253.5,298.0 C253.6,301.8 253.8,304.7 253.8,306.0" stroke="#262626" stroke-width="7.40" fill="none" stroke-linecap="round" stroke-linejoin="round"/>
<path d="M247.0,300.0 C246.9,297.5 246.1,288.4 246.5,285.0 C246.9,281.6 248.4,279.8 249.5,279.5 C250.6,279.2 252.3,279.9 253.0,283.0 C253.7,286.1 253.4,294.2 253.5,298.0 C253.6,301.8 253.8,304.7 253.8,306.0" stroke="#fff" stroke-width="5.20" fill="none" stroke-linecap="round" stroke-linejoin="round"/>
<path d="M255.5,278.5 C256.4,278.9 259.1,280.1 261.0,281.0 C262.9,281.9 266.0,283.2 267.0,283.7" stroke="#262626" stroke-width="7.20" fill="none" stroke-linecap="round" stroke-linejoin="round"/>
<path d="M255.5,278.5 C256.4,278.9 259.1,280.1 261.0,281.0 C262.9,281.9 266.0,283.2 267.0,283.7" stroke="#fff" stroke-width="5.00" fill="none" stroke-linecap="round" stroke-linejoin="round"/>
<ellipse cx="267.8" cy="284" rx="3" ry="3.6" stroke="#262626" stroke-width="1.0" fill="#fff" transform="rotate(-25 267.8 284)"/>
<ellipse cx="268" cy="284" rx="1.5" ry="2" stroke="#262626" stroke-width="0.8" fill="#fff" transform="rotate(-25 268 284)"/>
<path d="M257.5,288.0 L264.0,291.0" stroke="#262626" stroke-width="6.20" fill="none" stroke-linecap="round" stroke-linejoin="round"/>
<path d="M257.5,288.0 L264.0,291.0" stroke="#fff" stroke-width="4.00" fill="none" stroke-linecap="round" stroke-linejoin="round"/>
<ellipse cx="264.6" cy="291.2" rx="2.6" ry="3.1" stroke="#262626" stroke-width="1.0" fill="#fff" transform="rotate(-25 264.6 291.2)"/>
<path d="M255,273.5 L258.5,273 L259,276.5 L255.5,277 Z" fill="#262626"/>
<rect x="244.00" y="288.25" width="3" height="7.5" fill="#262626" transform="rotate(90 245.5 292)"/>
<rect x="252.10" y="294.30" width="3" height="7.4" fill="#262626" transform="rotate(90 253.6 298)"/>
<rect x="246.00" y="281.30" width="1.6" height="7.4" fill="#262626" transform="rotate(90 246.8 285)"/>
<rect x="265.5" y="334" width="3.8" height="7.6" rx="1" fill="#fff" stroke="#262626" stroke-width="1" transform="rotate(-15 267.4 337.8)"/>
<rect x="266.70" y="333.60" width="1.4" height="3.8" fill="#262626" transform="rotate(-15 267.4 335.5)"/>
<path d="M256.0,299.0 C259.2,299.7 268.8,301.3 275.0,303.0 C281.2,304.7 288.0,307.1 293.0,309.0 C298.0,310.9 301.0,313.6 305.0,314.2 C309.0,314.8 312.7,313.6 317.0,312.3 C321.3,311.0 328.7,307.2 331.0,306.2" stroke="#262626" stroke-width="5.80" fill="none" stroke-linecap="round" stroke-linejoin="round"/>
<path d="M256.0,299.0 C259.2,299.7 268.8,301.3 275.0,303.0 C281.2,304.7 288.0,307.1 293.0,309.0 C298.0,310.9 301.0,313.6 305.0,314.2 C309.0,314.8 312.7,313.6 317.0,312.3 C321.3,311.0 328.7,307.2 331.0,306.2" stroke="#fff" stroke-width="3.60" fill="none" stroke-linecap="round" stroke-linejoin="round"/>
<path d="M331.0,306.5 L339.0,303.8" stroke="#262626" stroke-width="7.20" fill="none" stroke-linecap="round" stroke-linejoin="round"/>
<path d="M331.0,306.5 L339.0,303.8" stroke="#fff" stroke-width="5.20" fill="none" stroke-linecap="round" stroke-linejoin="round"/>
<rect x="330.40" y="302.70" width="2.2" height="7.2" fill="#262626" transform="rotate(-20 331.5 306.3)"/>
<ellipse cx="152.5" cy="259" rx="7" ry="5" stroke="#262626" stroke-width="1.0" fill="#fff" transform="rotate(-15 152.5 259)"/>
<path d="M150.0,263.5 L150.0,274.0" stroke="#262626" stroke-width="10.00" fill="none" stroke-linecap="butt" stroke-linejoin="round"/>
<path d="M150.0,263.5 L150.0,274.0" stroke="#fff" stroke-width="8.00" fill="none" stroke-linecap="butt" stroke-linejoin="round"/>
<path d="M145,274 C147,275.5 153,275.5 155,274" stroke="#262626" stroke-width="1.0" fill="none" stroke-linejoin="round" stroke-linecap="round"/>
<path d="M155.5,276.5 C155.8,275.2 155.4,270.8 157.0,269.0 C158.6,267.2 162.3,265.8 165.0,265.5 C167.7,265.2 171.1,266.2 173.0,267.5 C174.9,268.8 175.7,271.2 176.3,273.0 C176.9,274.8 176.5,277.6 176.5,278.5" stroke="#262626" stroke-width="7.80" fill="none" stroke-linecap="round" stroke-linejoin="round"/>
<path d="M155.5,276.5 C155.8,275.2 155.4,270.8 157.0,269.0 C158.6,267.2 162.3,265.8 165.0,265.5 C167.7,265.2 171.1,266.2 173.0,267.5 C174.9,268.8 175.7,271.2 176.3,273.0 C176.9,274.8 176.5,277.6 176.5,278.5" stroke="#fff" stroke-width="5.60" fill="none" stroke-linecap="round" stroke-linejoin="round"/>
<ellipse cx="155.6" cy="276.5" rx="4" ry="4.4" stroke="#262626" stroke-width="1.0" fill="#fff"/>
<ellipse cx="165" cy="284" rx="5.2" ry="6.5" stroke="#262626" stroke-width="1.0" fill="#fff" transform="rotate(-10 165 284)"/>
<rect x="171.80" y="280.50" width="3.4" height="9" fill="#262626" transform="rotate(35 173.5 285)"/>
<path d="M147.0,297.0 C147.2,298.2 147.0,302.3 148.5,304.0 C150.0,305.7 153.2,306.8 156.0,307.0 C158.8,307.2 162.2,306.0 165.0,305.0 C167.8,304.0 171.2,301.7 172.5,301.0" stroke="#262626" stroke-width="10.00" fill="none" stroke-linecap="round" stroke-linejoin="round"/>
<path d="M147.0,297.0 C147.2,298.2 147.0,302.3 148.5,304.0 C150.0,305.7 153.2,306.8 156.0,307.0 C158.8,307.2 162.2,306.0 165.0,305.0 C167.8,304.0 171.2,301.7 172.5,301.0" stroke="#fff" stroke-width="7.80" fill="none" stroke-linecap="round" stroke-linejoin="round"/>
<rect x="147.70" y="294.00" width="2.6" height="11" fill="#262626" transform="rotate(80 149 299.5)"/>
<rect x="169.60" y="296.25" width="2.8" height="10.5" fill="#262626" transform="rotate(-30 171 301.5)"/>
<ellipse cx="175" cy="300" rx="2.8" ry="5.3" stroke="#a8a8a8" stroke-width="0.8" fill="#fff" transform="rotate(-30 175 300)"/>
<path d="M178.5,288.0 C179.6,288.8 181.4,289.7 185.0,292.5 C188.6,295.3 195.0,300.8 200.0,305.0 C205.0,309.2 210.4,314.2 215.0,318.0 C219.6,321.8 224.5,325.6 227.5,328.0 C230.5,330.4 232.1,331.8 233.0,332.5" stroke="#262626" stroke-width="11.40" fill="none" stroke-linecap="round" stroke-linejoin="round"/>
<path d="M178.5,288.0 C179.6,288.8 181.4,289.7 185.0,292.5 C188.6,295.3 195.0,300.8 200.0,305.0 C205.0,309.2 210.4,314.2 215.0,318.0 C219.6,321.8 224.5,325.6 227.5,328.0 C230.5,330.4 232.1,331.8 233.0,332.5" stroke="#fff" stroke-width="9.20" fill="none" stroke-linecap="round" stroke-linejoin="round"/>
<ellipse cx="179.5" cy="288" rx="4.6" ry="7.2" stroke="#262626" stroke-width="1.0" fill="#fff" transform="rotate(-40 179.5 288)"/>
<path d="M234.0,334.0 C235.3,335.2 239.3,338.8 242.0,341.0 C244.7,343.2 248.7,346.4 250.0,347.5" stroke="#262626" stroke-width="5.20" fill="none" stroke-linecap="round" stroke-linejoin="round"/>
<path d="M234.0,334.0 C235.3,335.2 239.3,338.8 242.0,341.0 C244.7,343.2 248.7,346.4 250.0,347.5" stroke="#fff" stroke-width="3.00" fill="none" stroke-linecap="round" stroke-linejoin="round"/>
<path d="M231.0,332.0 L237.0,337.5" stroke="#262626" stroke-width="7.50" fill="none" stroke-linecap="round" stroke-linejoin="round"/>
<path d="M231.0,332.0 L237.0,337.5" stroke="#fff" stroke-width="5.30" fill="none" stroke-linecap="round" stroke-linejoin="round"/>
<rect x="237.00" y="335.30" width="2.4" height="7" fill="#262626" transform="rotate(42 238.2 338.8)"/>
<rect x="228.20" y="325.70" width="3.2" height="10.2" fill="#262626" transform="rotate(42 229.8 330.8)"/>
<path d="M221,311 L223.5,309.5 L229,314 L232,319.5 L233.5,325.5 L229.5,327 L224,321 Z" stroke="#262626" stroke-width="1.0" fill="#fff" stroke-linejoin="round" stroke-linecap="round"/>
<path d="M223.8,319.2 L231.6,318.6 L232.6,321.8 L225.8,323 Z" fill="#333"/>
<path d="M225,313 L228,316 M226.5,311.5 L229.5,315" stroke="#888" stroke-width="0.6" fill="none" stroke-linejoin="round" stroke-linecap="round"/>
<path d="M251.0,355.0 C250.2,356.2 247.2,359.6 246.5,362.0 C245.8,364.4 245.9,367.5 246.5,369.5 C247.1,371.5 248.8,373.3 250.0,374.0 C251.2,374.7 253.3,373.6 254.0,373.5" stroke="#262626" stroke-width="5.20" fill="none" stroke-linecap="round" stroke-linejoin="round"/>
<path d="M251.0,355.0 C250.2,356.2 247.2,359.6 246.5,362.0 C245.8,364.4 245.9,367.5 246.5,369.5 C247.1,371.5 248.8,373.3 250.0,374.0 C251.2,374.7 253.3,373.6 254.0,373.5" stroke="#fff" stroke-width="3.00" fill="none" stroke-linecap="round" stroke-linejoin="round"/>
<rect x="248.10" y="370.25" width="1.8" height="5.5" fill="#262626" transform="rotate(20 249 373)"/>
<path d="M378.0,315.5 C379.5,317.8 383.8,323.6 387.0,329.0 C390.2,334.4 393.2,343.3 397.0,348.0 C400.8,352.7 405.5,354.5 410.0,357.0 C414.5,359.5 421.7,362.0 424.0,363.0" stroke="#262626" stroke-width="7.60" fill="none" stroke-linecap="round" stroke-linejoin="round"/>
<path d="M378.0,315.5 C379.5,317.8 383.8,323.6 387.0,329.0 C390.2,334.4 393.2,343.3 397.0,348.0 C400.8,352.7 405.5,354.5 410.0,357.0 C414.5,359.5 421.7,362.0 424.0,363.0" stroke="#fff" stroke-width="5.40" fill="none" stroke-linecap="round" stroke-linejoin="round"/>
<ellipse cx="377.8" cy="315.3" rx="3" ry="3.6" stroke="#262626" stroke-width="1.0" fill="#fff" transform="rotate(-35 377.8 315.3)"/>
<rect x="383.10" y="317.25" width="1.8" height="7.5" fill="#262626" transform="rotate(56 384 321)"/>
<path d="M427.5,360.0 C427.5,358.5 426.9,352.9 427.5,351.0 C428.1,349.1 428.9,348.1 431.0,348.5 C433.1,348.9 436.8,351.5 440.0,353.5 C443.2,355.5 448.3,359.3 450.0,360.5" stroke="#262626" stroke-width="9.00" fill="none" stroke-linecap="round" stroke-linejoin="round"/>
<path d="M427.5,360.0 C427.5,358.5 426.9,352.9 427.5,351.0 C428.1,349.1 428.9,348.1 431.0,348.5 C433.1,348.9 436.8,351.5 440.0,353.5 C443.2,355.5 448.3,359.3 450.0,360.5" stroke="#fff" stroke-width="6.80" fill="none" stroke-linecap="round" stroke-linejoin="round"/>
<ellipse cx="451" cy="361.5" rx="2.8" ry="4.3" stroke="#262626" stroke-width="1.0" fill="#fff" transform="rotate(-55 451 361.5)"/>
<line x1="437" y1="351.2" x2="434.5" y2="356.5" stroke="#666" stroke-width="0.8"/>
<path d="M426.5,366.0 C426.5,367.0 426.4,368.0 426.5,372.0 C426.6,376.0 425.6,384.5 427.0,390.0 C428.4,395.5 432.5,400.7 435.0,405.0 C437.5,409.3 439.8,413.3 442.0,416.0 C444.2,418.7 446.2,420.1 448.0,421.0 C449.8,421.9 452.2,421.4 453.0,421.5" stroke="#262626" stroke-width="7.60" fill="none" stroke-linecap="round" stroke-linejoin="round"/>
<path d="M426.5,366.0 C426.5,367.0 426.4,368.0 426.5,372.0 C426.6,376.0 425.6,384.5 427.0,390.0 C428.4,395.5 432.5,400.7 435.0,405.0 C437.5,409.3 439.8,413.3 442.0,416.0 C444.2,418.7 446.2,420.1 448.0,421.0 C449.8,421.9 452.2,421.4 453.0,421.5" stroke="#fff" stroke-width="5.40" fill="none" stroke-linecap="round" stroke-linejoin="round"/>
<path d="M455.0,420.5 C456.0,419.8 459.0,417.8 461.0,416.5 C463.0,415.2 466.0,413.6 467.0,413.0" stroke="#262626" stroke-width="7.60" fill="none" stroke-linecap="round" stroke-linejoin="round"/>
<path d="M455.0,420.5 C456.0,419.8 459.0,417.8 461.0,416.5 C463.0,415.2 466.0,413.6 467.0,413.0" stroke="#fff" stroke-width="5.40" fill="none" stroke-linecap="round" stroke-linejoin="round"/>
<ellipse cx="467.8" cy="412.8" rx="2.6" ry="4" stroke="#262626" stroke-width="1.0" fill="#fff" transform="rotate(-55 467.8 412.8)"/>
<rect x="425.60" y="356.00" width="2.4" height="10" fill="#262626" transform="rotate(90 426.8 361)"/>
<rect x="426.15" y="361.00" width="1.3" height="9" fill="#262626" transform="rotate(90 426.8 365.5)"/>
<rect x="426.00" y="366.75" width="1.6" height="8.5" fill="#262626" transform="rotate(90 426.8 371)"/>
<rect x="452.40" y="417.00" width="2.2" height="9" fill="#262626" transform="rotate(-35 453.5 421.5)"/>
<path d="M427.0,425.0 C427.2,426.2 427.8,429.3 428.0,432.0 C428.2,434.7 428.9,437.8 428.5,441.0 C428.1,444.2 427.4,448.0 425.5,451.0 C423.6,454.0 421.2,456.3 417.0,459.0 C412.8,461.7 405.2,464.3 400.0,467.0 C394.8,469.7 390.7,472.5 386.0,475.0 C381.3,477.5 376.5,479.7 372.0,482.0 C367.5,484.3 362.8,486.3 359.0,489.0 C355.2,491.7 352.0,494.7 349.0,498.0 C346.0,501.3 343.5,506.3 341.0,509.0 C338.5,511.7 336.8,513.0 334.0,514.0 C331.2,515.0 328.3,515.0 324.0,515.0 C319.7,515.0 313.7,513.7 308.0,514.0 C302.3,514.3 294.0,516.7 290.0,517.0 C286.0,517.3 288.2,518.7 284.0,516.0 C279.8,513.3 270.7,505.8 265.0,501.0 C259.3,496.2 253.2,490.8 250.0,487.0 C246.8,483.2 246.2,480.8 246.0,478.0 C245.8,475.2 247.3,472.0 249.0,470.0 C250.7,468.0 254.8,466.7 256.0,466.0" stroke="#262626" stroke-width="7.20" fill="none" stroke-linecap="round" stroke-linejoin="round"/>
<path d="M427.0,425.0 C427.2,426.2 427.8,429.3 428.0,432.0 C428.2,434.7 428.9,437.8 428.5,441.0 C428.1,444.2 427.4,448.0 425.5,451.0 C423.6,454.0 421.2,456.3 417.0,459.0 C412.8,461.7 405.2,464.3 400.0,467.0 C394.8,469.7 390.7,472.5 386.0,475.0 C381.3,477.5 376.5,479.7 372.0,482.0 C367.5,484.3 362.8,486.3 359.0,489.0 C355.2,491.7 352.0,494.7 349.0,498.0 C346.0,501.3 343.5,506.3 341.0,509.0 C338.5,511.7 336.8,513.0 334.0,514.0 C331.2,515.0 328.3,515.0 324.0,515.0 C319.7,515.0 313.7,513.7 308.0,514.0 C302.3,514.3 294.0,516.7 290.0,517.0 C286.0,517.3 288.2,518.7 284.0,516.0 C279.8,513.3 270.7,505.8 265.0,501.0 C259.3,496.2 253.2,490.8 250.0,487.0 C246.8,483.2 246.2,480.8 246.0,478.0 C245.8,475.2 247.3,472.0 249.0,470.0 C250.7,468.0 254.8,466.7 256.0,466.0" stroke="#fff" stroke-width="5.00" fill="none" stroke-linecap="round" stroke-linejoin="round"/>
<ellipse cx="426.5" cy="425" rx="2.8" ry="2" stroke="#262626" stroke-width="1.0" fill="#fff"/>
<path d="M249.5,469.0 L257.0,465.5" stroke="#262626" stroke-width="8.60" fill="none" stroke-linecap="butt" stroke-linejoin="round"/>
<path d="M249.5,469.0 L257.0,465.5" stroke="#fff" stroke-width="6.60" fill="none" stroke-linecap="butt" stroke-linejoin="round"/>
<ellipse cx="258" cy="465.3" rx="2.6" ry="4.3" stroke="#262626" stroke-width="1.0" fill="#fff" transform="rotate(-25 258 465.3)"/>
<rect x="246.75" y="465.70" width="1.5" height="8.6" fill="#262626" transform="rotate(-25 247.5 470)"/>
<ellipse cx="381" cy="478.5" rx="4" ry="6.5" stroke="#262626" stroke-width="1.1" fill="#fff" transform="rotate(-25 381 478.5)"/>
<ellipse cx="383" cy="477.5" rx="3" ry="5.5" stroke="#262626" stroke-width="0.9" fill="#fff" transform="rotate(-25 383 477.5)"/>
<ellipse cx="366" cy="481.5" rx="3.4" ry="3.4" stroke="#262626" stroke-width="1.0" fill="#fff"/>
<ellipse cx="366" cy="481.5" rx="1.6" ry="1.6" stroke="#262626" stroke-width="0.8" fill="#fff"/>
<path d="M370,484 L374,487 L377,483" stroke="#262626" stroke-width="0.9" fill="none" stroke-linejoin="round" stroke-linecap="round"/>
<rect x="422.80" y="448.00" width="1.4" height="8" fill="#262626" transform="rotate(-60 423.5 452)"/>
<ellipse cx="332" cy="509" rx="2" ry="3.5" stroke="#262626" stroke-width="0.9" fill="#fff" transform="rotate(30 332 509)"/>
<ellipse cx="340.5" cy="517" rx="2.2" ry="2.2" stroke="#262626" stroke-width="1.0" fill="#fff"/>
<path d="M167.5,70 L167.5,135 M167,70.5 L232.5,70.5 L232.5,134.5 L167,134.5" stroke="#777" stroke-width="1" fill="none"/>
<line x1="217" y1="67.4" x2="157.5" y2="102.6" stroke="#222" stroke-width="0.9" stroke-dasharray="12 3.5 2 3.5"/>
<line x1="196" y1="123" x2="165" y2="141" stroke="#222" stroke-width="0.9" stroke-dasharray="12 3.5 2 3.5"/>
<path d="M190,75 L192.7,74.3 L198.7,77.6 L198.2,95 L202,97 C205,99 207,103 207.5,108 L207,123.5 L195,123.5 C188,123 181,121 178.5,116 C176.5,110 179,103 184,96 L187.5,89 L189.5,84 Z" stroke="#262626" stroke-width="1.3" fill="#fff" stroke-linejoin="round" stroke-linecap="round"/>
<path d="M189.5,80.5 L190,85.2 L196.5,87.9" stroke="#262626" stroke-width="0.8" fill="none" stroke-linejoin="round" stroke-linecap="round"/>
<path d="M186,92 C184,96 183,99 182,101" stroke="#262626" stroke-width="1.3" fill="none" stroke-linejoin="round" stroke-linecap="round"/>
<ellipse cx="193.2" cy="81" rx="1.7" ry="2.1" stroke="#262626" stroke-width="1.2" fill="#fff"/>
<path d="M194,97 C196,95.5 200,95.5 203,97.5 L204,104 C201,106.5 197,107 194,105 Z" stroke="#262626" stroke-width="0.9" fill="#fff" stroke-linejoin="round" stroke-linecap="round"/>
<ellipse cx="198" cy="97" rx="2" ry="1.3" stroke="#262626" stroke-width="0.8" fill="#fff"/>
<path d="M187.5,97.5 L194,97 L194,100 L187.5,100.5 Z" stroke="#262626" stroke-width="0.8" fill="#fff" stroke-linejoin="round" stroke-linecap="round"/>
<line x1="190.5" y1="104" x2="190.5" y2="117" stroke="#262626" stroke-width="0.9"/>
<path d="M186,106 L190,105.5" stroke="#666" stroke-width="0.7" fill="none" stroke-linejoin="round" stroke-linecap="round"/>
<path d="M195,123.5 L197,126 L202,126 L203,123.5" stroke="#262626" stroke-width="0.9" fill="#fff" stroke-linejoin="round" stroke-linecap="round"/>
<path d="M207,109 L222.5,109 L222.5,125 L207,125 Z" stroke="#262626" stroke-width="1.0" fill="#fff" stroke-linejoin="round" stroke-linecap="round"/>
<ellipse cx="207.6" cy="117" rx="2.4" ry="7.8" stroke="#262626" stroke-width="1.0" fill="#fff"/>
<line x1="215.5" y1="109.5" x2="215.5" y2="124.5" stroke="#262626" stroke-width="0.8"/>
<ellipse cx="222.6" cy="117" rx="5.4" ry="8" stroke="#262626" stroke-width="1.1" fill="#fff"/>
<ellipse cx="222.3" cy="117" rx="3.4" ry="5.2" stroke="#262626" stroke-width="0.9" fill="#fff"/>
<ellipse cx="214.5" cy="97.8" rx="4.5" ry="6.4" stroke="#262626" stroke-width="1.5" fill="none"/>
<line x1="223" y1="117.3" x2="236" y2="117.8" stroke="#333" stroke-width="0.9"/>
<line x1="238.3" y1="123.2" x2="238.3" y2="250" stroke="#555" stroke-width="1.0" stroke-dasharray="14 4 2 3.5"/>
<line x1="238.3" y1="119" x2="238.3" y2="121" stroke="#555" stroke-width="1.0"/>
<path d="M217.0,68.0 L232.0,59.8" stroke="#262626" stroke-width="4.00" fill="none" stroke-linecap="round" stroke-linejoin="round"/>
<path d="M217.0,68.0 L232.0,59.8" stroke="#fff" stroke-width="2.20" fill="none" stroke-linecap="round" stroke-linejoin="round"/>
<line x1="219.1" y1="64.76" x2="220.9" y2="67.96" stroke="#333" stroke-width="0.7"/>
<line x1="220.9" y1="63.776" x2="222.70000000000002" y2="66.976" stroke="#333" stroke-width="0.7"/>
<line x1="222.7" y1="62.791999999999994" x2="224.5" y2="65.99199999999999" stroke="#333" stroke-width="0.7"/>
<line x1="224.5" y1="61.808" x2="226.3" y2="65.008" stroke="#333" stroke-width="0.7"/>
<line x1="226.29999999999998" y1="60.824" x2="228.1" y2="64.024" stroke="#333" stroke-width="0.7"/>
<line x1="228.1" y1="59.839999999999996" x2="229.9" y2="63.04" stroke="#333" stroke-width="0.7"/>
<polygon points="152.5,101 155.8,99 159,101 159,105 155.8,107 152.5,105" fill="#666" stroke="#262626" stroke-width="1"/>
<polygon points="154,101.5 157.5,101.5 158.2,104 155.8,105.8 153.5,104" fill="#bbb"/>
<path d="M158.5,145.5 L166.0,141.2" stroke="#262626" stroke-width="3.80" fill="none" stroke-linecap="round" stroke-linejoin="round"/>
<path d="M158.5,145.5 L166.0,141.2" stroke="#fff" stroke-width="2.00" fill="none" stroke-linecap="round" stroke-linejoin="round"/>
<line x1="159.7" y1="142.8" x2="161.3" y2="145.8" stroke="#333" stroke-width="0.7"/>
<line x1="161.5" y1="141.8" x2="163.10000000000002" y2="144.8" stroke="#333" stroke-width="0.7"/>
<line x1="163.29999999999998" y1="140.8" x2="164.9" y2="143.8" stroke="#333" stroke-width="0.7"/>
<line x1="165.1" y1="139.8" x2="166.70000000000002" y2="142.8" stroke="#333" stroke-width="0.7"/>
<polygon points="152.2,144.8 155.8,142.6 159.4,144.8 159.4,148.8 155.8,151 152.2,148.8" fill="#888" stroke="#262626" stroke-width="1"/>
<polygon points="153.8,145.3 157.6,145.3 158.2,147.8 155.8,149.4 153.6,147.8" fill="#ccc"/>
<path d="M105.8,183.5 L113,183.5 L112.8,188 L106,188 Z" stroke="#262626" stroke-width="1.0" fill="#fff" stroke-linejoin="round" stroke-linecap="round"/>
<path d="M107.3,188 L110.7,188 L110,191.5 L108,191.5 Z" stroke="#262626" stroke-width="0.9" fill="#fff" stroke-linejoin="round" stroke-linecap="round"/>
<path d="M107.6,191.5 L109.8,191.5 L109.4,194.5 L108,194.5 Z" fill="#262626"/>
<path d="M104.5,182 C103.5,179 105.5,177.5 108,177.8 L109.5,176.3 L113,176 L114.5,178 L114,183 L106,183.5 Z" stroke="#262626" stroke-width="1.0" fill="#fff" stroke-linejoin="round" stroke-linecap="round"/>
<path d="M114.3,175 L123.4,180 L120.5,185.7 L112.3,181.4 Z" stroke="#262626" stroke-width="1.0" fill="#fff" stroke-linejoin="round" stroke-linecap="round"/>
<ellipse cx="121.8" cy="183" rx="2.2" ry="3.2" stroke="#262626" stroke-width="1.0" fill="#fff" transform="rotate(30 121.8 183)"/>
<path d="M116,177 L121,179.8" stroke="#262626" stroke-width="0.8" fill="none" stroke-linejoin="round" stroke-linecap="round"/>
<path d="M113.8,347.0 L113.8,351.6" stroke="#262626" stroke-width="9.40" fill="none" stroke-linecap="butt" stroke-linejoin="round"/>
<path d="M113.8,347.0 L113.8,351.6" stroke="#fff" stroke-width="7.40" fill="none" stroke-linecap="butt" stroke-linejoin="round"/>
<path d="M109.1,351.6 C109.1,354.2 118.5,354.2 118.5,351.6" fill="none" stroke="#262626" stroke-width="1.4"/>
<path d="M107,326.5 C105,329 105,333 105.2,338 L104.2,339.5 L104.5,343 C106,346.5 110,348.4 114,348.4 C118,348.4 122,346.5 123.3,343 L123.5,339.5 L123,338 L124.5,332 L121,326.5 Z" stroke="#262626" stroke-width="1.0" fill="#fff" stroke-linejoin="round" stroke-linecap="round"/>
<path d="M104.3,339.6 C108,342.8 120,342.8 123.5,339.6" stroke="#262626" stroke-width="1.3" fill="none" stroke-linejoin="round" stroke-linecap="round"/>
<path d="M105.2,337.8 C109,340.3 119,340.3 123,337.8" stroke="#262626" stroke-width="0.8" fill="none" stroke-linejoin="round" stroke-linecap="round"/>
<path d="M106.5,330 C110,332 118,332 121,330" stroke="#555" stroke-width="0.7" fill="none" stroke-linejoin="round" stroke-linecap="round"/>
<path d="M113.8,318.4 L113.8,326.5" stroke="#262626" stroke-width="9.40" fill="none" stroke-linecap="butt" stroke-linejoin="round"/>
<path d="M113.8,318.4 L113.8,326.5" stroke="#fff" stroke-width="7.40" fill="none" stroke-linecap="butt" stroke-linejoin="round"/>
<ellipse cx="113.8" cy="317.6" rx="4.7" ry="2.2" stroke="#262626" stroke-width="1.4" fill="#fff"/>
<path d="M121.8,331.0 L120.3,335.5" stroke="#262626" stroke-width="8.40" fill="none" stroke-linecap="butt" stroke-linejoin="round"/>
<path d="M121.8,331.0 L120.3,335.5" stroke="#fff" stroke-width="6.40" fill="none" stroke-linecap="butt" stroke-linejoin="round"/>
<ellipse cx="123" cy="328.4" rx="4.4" ry="3.8" stroke="#262626" stroke-width="1.4" fill="#fff" transform="rotate(-15 123 328.4)"/>
<line x1="119.5" y1="333" x2="119.5" y2="341" stroke="#777" stroke-width="0.7"/>
<path d="M100.5,368 L100.5,574.5 M100,368.5 L185,368.5 L240.5,535 L240.5,574.5 L100,574.5" stroke="#666" stroke-width="1" fill="none"/>
<path d="M176.7,395.8 C174.4,397.2 167.4,401.1 163.0,404.0 C158.6,406.9 153.0,410.4 150.0,413.3 C147.0,416.2 148.1,418.6 145.0,421.7 C141.9,424.8 136.7,429.2 131.7,431.7 C126.7,434.2 118.3,435.3 115.0,436.7 C111.7,438.1 112.2,439.4 111.7,440.0" stroke="#262626" stroke-width="2.90" fill="none" stroke-linecap="round" stroke-linejoin="round"/>
<path d="M176.7,395.8 C174.4,397.2 167.4,401.1 163.0,404.0 C158.6,406.9 153.0,410.4 150.0,413.3 C147.0,416.2 148.1,418.6 145.0,421.7 C141.9,424.8 136.7,429.2 131.7,431.7 C126.7,434.2 118.3,435.3 115.0,436.7 C111.7,438.1 112.2,439.4 111.7,440.0" stroke="#fff" stroke-width="1.30" fill="none" stroke-linecap="round" stroke-linejoin="round"/>
<path d="M106.3,440.0 C107.5,440.6 111.3,442.3 113.8,443.8 C116.3,445.3 119.4,446.9 121.3,448.8 C123.2,450.7 124.5,452.8 125.0,455.0 C125.5,457.2 124.7,459.9 124.5,462.0 C124.3,464.1 124.5,464.9 123.8,467.5 C123.1,470.1 120.9,475.2 120.5,477.5 C120.1,479.8 119.9,480.1 121.5,481.5 C123.1,482.9 125.9,484.0 130.0,486.0 C134.1,488.0 141.2,490.2 146.0,493.5 C150.8,496.8 154.6,500.8 159.0,506.0 C163.4,511.2 168.8,520.2 172.5,525.0 C176.2,529.8 178.5,532.1 181.0,535.0 C183.5,537.9 185.4,539.2 187.5,542.5 C189.6,545.8 191.7,552.1 193.8,555.0 C195.9,557.9 196.9,558.2 200.0,560.0 C203.1,561.8 209.2,564.3 212.5,566.0 C215.8,567.7 217.9,569.8 220.0,570.0 C222.1,570.2 223.3,569.2 225.0,567.5 C226.7,565.8 229.2,561.2 230.0,560.0" stroke="#262626" stroke-width="4.40" fill="none" stroke-linecap="round" stroke-linejoin="round"/>
<path d="M106.3,440.0 C107.5,440.6 111.3,442.3 113.8,443.8 C116.3,445.3 119.4,446.9 121.3,448.8 C123.2,450.7 124.5,452.8 125.0,455.0 C125.5,457.2 124.7,459.9 124.5,462.0 C124.3,464.1 124.5,464.9 123.8,467.5 C123.1,470.1 120.9,475.2 120.5,477.5 C120.1,479.8 119.9,480.1 121.5,481.5 C123.1,482.9 125.9,484.0 130.0,486.0 C134.1,488.0 141.2,490.2 146.0,493.5 C150.8,496.8 154.6,500.8 159.0,506.0 C163.4,511.2 168.8,520.2 172.5,525.0 C176.2,529.8 178.5,532.1 181.0,535.0 C183.5,537.9 185.4,539.2 187.5,542.5 C189.6,545.8 191.7,552.1 193.8,555.0 C195.9,557.9 196.9,558.2 200.0,560.0 C203.1,561.8 209.2,564.3 212.5,566.0 C215.8,567.7 217.9,569.8 220.0,570.0 C222.1,570.2 223.3,569.2 225.0,567.5 C226.7,565.8 229.2,561.2 230.0,560.0" stroke="#fff" stroke-width="2.80" fill="none" stroke-linecap="round" stroke-linejoin="round"/>
<path d="M106.3,440.0 C107.5,440.6 111.3,442.3 113.8,443.8 C116.3,445.3 119.4,446.9 121.3,448.8 C123.2,450.7 124.5,452.8 125.0,455.0 C125.5,457.2 124.7,459.9 124.5,462.0 C124.3,464.1 124.5,464.9 123.8,467.5 C123.1,470.1 120.9,475.2 120.5,477.5 C120.1,479.8 119.9,480.1 121.5,481.5 C123.1,482.9 125.9,484.0 130.0,486.0 C134.1,488.0 141.2,490.2 146.0,493.5 C150.8,496.8 154.6,500.8 159.0,506.0 C163.4,511.2 168.8,520.2 172.5,525.0 C176.2,529.8 178.5,532.1 181.0,535.0 C183.5,537.9 185.4,539.2 187.5,542.5 C189.6,545.8 191.7,552.1 193.8,555.0 C195.9,557.9 196.9,558.2 200.0,560.0 C203.1,561.8 209.2,564.3 212.5,566.0 C215.8,567.7 217.9,569.8 220.0,570.0 C222.1,570.2 223.3,569.2 225.0,567.5 C226.7,565.8 229.2,561.2 230.0,560.0" stroke="#262626" stroke-width="0.55" fill="none" stroke-linejoin="round" stroke-linecap="round"/>
<path d="M206.0,565.0 C207.0,564.2 210.5,562.1 212.0,560.0 C213.5,557.9 215.2,554.6 215.0,552.5 C214.8,550.4 211.7,548.3 211.0,547.5" stroke="#262626" stroke-width="4.00" fill="none" stroke-linecap="round" stroke-linejoin="round"/>
<path d="M206.0,565.0 C207.0,564.2 210.5,562.1 212.0,560.0 C213.5,557.9 215.2,554.6 215.0,552.5 C214.8,550.4 211.7,548.3 211.0,547.5" stroke="#fff" stroke-width="2.40" fill="none" stroke-linecap="round" stroke-linejoin="round"/>
<path d="M156.0,386.5 C155.3,386.2 153.0,385.9 152.0,385.0 C151.0,384.1 150.0,382.3 149.8,381.0 C149.6,379.7 150.1,378.1 151.0,377.0 C151.9,375.9 153.8,374.7 155.5,374.3 C157.2,373.9 158.5,373.8 161.0,374.8 C163.5,375.8 167.3,378.6 170.5,380.5 C173.7,382.4 178.0,384.6 180.0,386.3 C182.0,388.1 182.4,389.6 182.3,391.0 C182.2,392.4 179.8,394.3 179.3,395.0" stroke="#262626" stroke-width="5.90" fill="none" stroke-linecap="round" stroke-linejoin="round"/>
<path d="M156.0,386.5 C155.3,386.2 153.0,385.9 152.0,385.0 C151.0,384.1 150.0,382.3 149.8,381.0 C149.6,379.7 150.1,378.1 151.0,377.0 C151.9,375.9 153.8,374.7 155.5,374.3 C157.2,373.9 158.5,373.8 161.0,374.8 C163.5,375.8 167.3,378.6 170.5,380.5 C173.7,382.4 178.0,384.6 180.0,386.3 C182.0,388.1 182.4,389.6 182.3,391.0 C182.2,392.4 179.8,394.3 179.3,395.0" stroke="#fff" stroke-width="3.70" fill="none" stroke-linecap="round" stroke-linejoin="round"/>
<rect x="150.40" y="375.35" width="2.2" height="5.9" fill="#262626" transform="rotate(-40 151.5 378.3)"/>
<rect x="177.10" y="392.00" width="2.4" height="6" fill="#262626" transform="rotate(-40 178.3 395)"/>
<ellipse cx="175.8" cy="396.7" rx="1.5" ry="1.5" stroke="#262626" stroke-width="0.8" fill="#fff"/>
<path d="M106.0,439.8 L109.5,441.5" stroke="#262626" stroke-width="4.60" fill="none" stroke-linecap="butt" stroke-linejoin="round"/>
<path d="M106.0,439.8 L109.5,441.5" stroke="#fff" stroke-width="2.60" fill="none" stroke-linecap="butt" stroke-linejoin="round"/>
<ellipse cx="106" cy="439.6" rx="1.8" ry="2.4" fill="#262626" transform="rotate(-30 106 439.6)"/>
<ellipse cx="211" cy="547.8" rx="2.3" ry="2.3" stroke="#262626" stroke-width="1.0" fill="#fff"/>
<rect x="212.70" y="548.50" width="1.6" height="5" fill="#262626" transform="rotate(70 213.5 551)"/>
<rect x="227.60" y="560.00" width="1.8" height="5" fill="#262626" transform="rotate(-60 228.5 562.5)"/>
<ellipse cx="230" cy="560" rx="2.3" ry="2.3" stroke="#262626" stroke-width="1.0" fill="#fff"/>
<rect x="120.85" y="446.00" width="1.3" height="5" fill="#262626" transform="rotate(30 121.5 448.5)"/>
<rect x="123.35" y="464.50" width="1.3" height="5" fill="#262626" transform="rotate(100 124 467)"/>
<rect x="127.35" y="484.50" width="1.3" height="5" fill="#262626" transform="rotate(20 128 487)"/>
<rect x="146.35" y="494.50" width="1.3" height="5" fill="#262626" transform="rotate(45 147 497)"/>
<rect x="171.35" y="521.50" width="1.3" height="5" fill="#262626" transform="rotate(50 172 524)"/>
<rect x="187.35" y="540.50" width="1.3" height="5" fill="#262626" transform="rotate(60 188 543)"/>
<rect x="195.35" y="554.50" width="1.3" height="5" fill="#262626" transform="rotate(40 196 557)"/>
<ellipse cx="149.5" cy="454.5" rx="5" ry="5.5" fill="#fff" stroke="#262626" stroke-width="1"/>
<polygon points="144.00,447.00 150.00,444.25 151.50,448.00 145.50,450.75" fill="#fff" stroke="#262626" stroke-width="1"/>
<polygon points="149.50,449.00 156.00,447.00 157.50,451.00 151.50,455.50" fill="#bbb" stroke="#262626" stroke-width="0.9"/>
<path d="M151.0,449.5 L154.5,453.5 M153.0,448.5 L156.0,452.0" stroke="#555" stroke-width="0.6"/>
<ellipse cx="157.5" cy="457.5" rx="6.5" ry="7.6" stroke="#262626" stroke-width="1.0" fill="#fff"/>
<ellipse cx="159.2" cy="458.0" rx="3.2" ry="3.5" stroke="#262626" stroke-width="0.9" fill="#fff"/>
<ellipse cx="159.7" cy="458.2" rx="1.4" ry="1.6" stroke="#777" stroke-width="0.7" fill="#fff"/>
<ellipse cx="189.5" cy="508.75" rx="5" ry="5.5" fill="#fff" stroke="#262626" stroke-width="1"/>
<polygon points="184.00,501.25 190.00,498.50 191.50,502.25 185.50,505.00" fill="#fff" stroke="#262626" stroke-width="1"/>
<polygon points="189.50,503.25 196.00,501.25 197.50,505.25 191.50,509.75" fill="#bbb" stroke="#262626" stroke-width="0.9"/>
<path d="M191.0,503.75 L194.5,507.75 M193.0,502.75 L196.0,506.25" stroke="#555" stroke-width="0.6"/>
<ellipse cx="197.5" cy="511.75" rx="6.5" ry="7.6" stroke="#262626" stroke-width="1.0" fill="#fff"/>
<ellipse cx="199.2" cy="512.25" rx="3.2" ry="3.5" stroke="#262626" stroke-width="0.9" fill="#fff"/>
<ellipse cx="199.7" cy="512.45" rx="1.4" ry="1.6" stroke="#777" stroke-width="0.7" fill="#fff"/>
<path d="M141.7,455.8 Q133,465 130.8,477.5" stroke="#262626" stroke-width="0.8" fill="none" stroke-linejoin="round" stroke-linecap="round"/>
<path d="M145,460 Q136,468 131.7,480" stroke="#262626" stroke-width="0.8" fill="none" stroke-linejoin="round" stroke-linecap="round"/>
<path d="M190,524 Q196,535 197.5,548" stroke="#262626" stroke-width="0.8" fill="none" stroke-linejoin="round" stroke-linecap="round"/>
<path d="M192,522 Q198,533 199,546" stroke="#262626" stroke-width="0.8" fill="none" stroke-linejoin="round" stroke-linecap="round"/>
<line x1="378.5" y1="113.5" x2="294.5" y2="307.5" stroke="#2a2a2a" stroke-width="1.1"/>
<line x1="393.3" y1="117" x2="295.5" y2="308" stroke="#2a2a2a" stroke-width="1.1"/>
<line x1="272" y1="222.5" x2="261.3" y2="242.5" stroke="#2a2a2a" stroke-width="1.1"/>
<line x1="277.5" y1="223" x2="261.8" y2="242.8" stroke="#2a2a2a" stroke-width="1.1"/>
<line x1="116.7" y1="190" x2="152" y2="235" stroke="#2a2a2a" stroke-width="1.1"/>
<line x1="123.3" y1="190" x2="153" y2="235" stroke="#2a2a2a" stroke-width="1.1"/>
<line x1="147.5" y1="284.2" x2="127.5" y2="325" stroke="#2a2a2a" stroke-width="1.1"/>
<line x1="145.8" y1="288.3" x2="128.3" y2="337.5" stroke="#2a2a2a" stroke-width="1.1"/>
<line x1="253.3" y1="322.7" x2="402.6" y2="371" stroke="#2a2a2a" stroke-width="1.1"/>
<line x1="253.3" y1="322.7" x2="408.1" y2="383.5" stroke="#2a2a2a" stroke-width="1.1"/>
<line x1="293.3" y1="354.7" x2="366.7" y2="469.3" stroke="#2a2a2a" stroke-width="1.1"/>
<line x1="293.3" y1="354.7" x2="377.3" y2="462.7" stroke="#2a2a2a" stroke-width="1.1"/>
<line x1="231.3" y1="386.7" x2="208" y2="429.8" stroke="#2a2a2a" stroke-width="1.1"/>
<line x1="232.5" y1="389" x2="212.7" y2="441.5" stroke="#2a2a2a" stroke-width="1.1"/>
<line x1="200.5" y1="63.5" x2="200.5" y2="70.5" stroke="#7c7c7c" stroke-width="1"/>
<line x1="233" y1="59.8" x2="248.5" y2="59.8" stroke="#7c7c7c" stroke-width="1"/>
<circle cx="233" cy="59.8" r="1.3" fill="#111"/>
<line x1="155.5" y1="88" x2="155.5" y2="99" stroke="#7c7c7c" stroke-width="1"/>
<line x1="155.5" y1="131" x2="155.5" y2="142.5" stroke="#7c7c7c" stroke-width="1"/>
<circle cx="155.5" cy="142.3" r="1.1" fill="#111"/>
<line x1="336.5" y1="100.8" x2="336.5" y2="128" stroke="#7c7c7c" stroke-width="1"/>
<circle cx="336.4" cy="100.8" r="1.3" fill="#111"/>
<line x1="285.8" y1="151.5" x2="310.3" y2="151.5" stroke="#7c7c7c" stroke-width="1"/>
<circle cx="310.3" cy="151.3" r="1.3" fill="#111"/>
<line x1="249.5" y1="194.2" x2="249.5" y2="222.5" stroke="#7c7c7c" stroke-width="1"/>
<circle cx="249.7" cy="222.5" r="1.3" fill="#111"/>
<line x1="165" y1="185.8" x2="165" y2="245.8" stroke="#7c7c7c" stroke-width="1"/>
<circle cx="165" cy="245.8" r="1.3" fill="#111"/>
<line x1="108.5" y1="193.3" x2="108.5" y2="213.3" stroke="#7c7c7c" stroke-width="1"/>
<line x1="121.7" y1="348" x2="144.2" y2="348" stroke="#7c7c7c" stroke-width="1"/>
<circle cx="121.7" cy="348" r="1.3" fill="#111"/>
<line x1="181" y1="291.3" x2="181" y2="335" stroke="#7c7c7c" stroke-width="1.1"/>
<circle cx="181" cy="291.3" r="1.3" fill="#111"/>
<line x1="442.5" y1="421.3" x2="442.5" y2="448" stroke="#7c7c7c" stroke-width="1"/>
<circle cx="442.7" cy="421.3" r="1.3" fill="#111"/>
<line x1="349.6" y1="504" x2="393" y2="504" stroke="#7c7c7c" stroke-width="1"/>
<circle cx="349.6" cy="504" r="1.3" fill="#111"/>
<line x1="146.7" y1="422" x2="169.2" y2="422" stroke="#7c7c7c" stroke-width="1"/>
<circle cx="146.7" cy="422" r="1.3" fill="#111"/>
<line x1="161.3" y1="450" x2="183.3" y2="450" stroke="#7c7c7c" stroke-width="1"/>
<circle cx="161.3" cy="450" r="1.3" fill="#111"/>
<line x1="198" y1="487.6" x2="198" y2="502" stroke="#7c7c7c" stroke-width="1"/>
<circle cx="198" cy="502" r="1.3" fill="#111"/>
<line x1="229" y1="540" x2="229" y2="557.6" stroke="#7c7c7c" stroke-width="1"/>
<circle cx="229" cy="557.6" r="1.3" fill="#111"/>
<line x1="241" y1="558" x2="262" y2="558" stroke="#7c7c7c" stroke-width="1"/>
<text x="201.2" y="62.9" fill="#0f22ff" stroke="#0f22ff" stroke-width="0.35" font-size="9.4" font-weight="bold" text-anchor="middle" textLength="10.9" lengthAdjust="spacingAndGlyphs">15</text>
<text x="250.8" y="63.6" fill="#0f22ff" stroke="#0f22ff" stroke-width="0.35" font-size="9.4" font-weight="bold" text-anchor="start" textLength="10.5" lengthAdjust="spacingAndGlyphs">16</text>
<text x="156.2" y="86.7" fill="#0f22ff" stroke="#0f22ff" stroke-width="0.35" font-size="9.4" font-weight="bold" text-anchor="middle" textLength="10.9" lengthAdjust="spacingAndGlyphs">17</text>
<text x="156.7" y="129.2" fill="#0f22ff" stroke="#0f22ff" stroke-width="0.35" font-size="9.4" font-weight="bold" text-anchor="middle" textLength="10.9" lengthAdjust="spacingAndGlyphs">18</text>
<text x="337.1" y="137.0" fill="#0f22ff" stroke="#0f22ff" stroke-width="0.35" font-size="9.4" font-weight="bold" text-anchor="middle" textLength="10.9" lengthAdjust="spacingAndGlyphs">12</text>
<text x="280.2" y="156.7" fill="#0f22ff" stroke="#0f22ff" stroke-width="0.35" font-size="9.4" font-weight="bold" text-anchor="middle" textLength="10.3" lengthAdjust="spacingAndGlyphs">14</text>
<text x="250.0" y="193.0" fill="#0f22ff" stroke="#0f22ff" stroke-width="0.35" font-size="9.4" font-weight="bold" text-anchor="middle" textLength="5.0" lengthAdjust="spacingAndGlyphs">9</text>
<text x="165.8" y="184.7" fill="#0f22ff" stroke="#0f22ff" stroke-width="0.35" font-size="9.4" font-weight="bold" text-anchor="middle" textLength="5.0" lengthAdjust="spacingAndGlyphs">7</text>
<text x="109.5" y="223.0" fill="#0f22ff" stroke="#0f22ff" stroke-width="0.35" font-size="9.4" font-weight="bold" text-anchor="middle" textLength="11.0" lengthAdjust="spacingAndGlyphs">11</text>
<text x="149.8" y="352.8" fill="#0f22ff" stroke="#0f22ff" stroke-width="0.35" font-size="9.4" font-weight="bold" text-anchor="middle" textLength="10.3" lengthAdjust="spacingAndGlyphs">10</text>
<text x="181.5" y="344.2" fill="#0f22ff" stroke="#0f22ff" stroke-width="0.35" font-size="9.4" font-weight="bold" text-anchor="middle" textLength="5.4" lengthAdjust="spacingAndGlyphs">8</text>
<text x="443.0" y="457.3" fill="#0f22ff" stroke="#0f22ff" stroke-width="0.35" font-size="9.4" font-weight="bold" text-anchor="middle" textLength="4.6" lengthAdjust="spacingAndGlyphs">6</text>
<text x="399.5" y="508.6" fill="#0f22ff" stroke="#0f22ff" stroke-width="0.35" font-size="9.4" font-weight="bold" text-anchor="middle" textLength="11.0" lengthAdjust="spacingAndGlyphs">13</text>
<text x="172.5" y="426.7" fill="#0f22ff" stroke="#0f22ff" stroke-width="0.35" font-size="9.4" font-weight="bold" text-anchor="middle" textLength="5.0" lengthAdjust="spacingAndGlyphs">3</text>
<text x="186.2" y="454.2" fill="#0f22ff" stroke="#0f22ff" stroke-width="0.35" font-size="9.4" font-weight="bold" text-anchor="middle" textLength="5.9" lengthAdjust="spacingAndGlyphs">4</text>
<text x="198.5" y="486.0" fill="#0f22ff" stroke="#0f22ff" stroke-width="0.35" font-size="9.4" font-weight="bold" text-anchor="middle" textLength="5.0" lengthAdjust="spacingAndGlyphs">5</text>
<text x="229.5" y="538.4" fill="#0f22ff" stroke="#0f22ff" stroke-width="0.35" font-size="9.4" font-weight="bold" text-anchor="middle" textLength="5.0" lengthAdjust="spacingAndGlyphs">2</text>
<text x="265.5" y="563.4" fill="#0f22ff" stroke="#0f22ff" stroke-width="0.35" font-size="9.4" font-weight="bold" text-anchor="middle" textLength="5.0" lengthAdjust="spacingAndGlyphs">1</text>
<text x="451.4" y="535.3" fill="#2a2a2a" font-size="7.4" text-anchor="middle" textLength="28.8" lengthAdjust="spacingAndGlyphs">F02.016</text>
<text x="451.6" y="547.8" fill="#2a2a2a" font-size="7.4" text-anchor="middle" textLength="29.3" lengthAdjust="spacingAndGlyphs">04-2012</text>
<text x="450.7" y="560.0" fill="#2a2a2a" font-size="7.4" text-anchor="middle" textLength="8.0" lengthAdjust="spacingAndGlyphs">L8</text>
<text x="452.7" y="572.5" fill="#2a2a2a" font-size="7.4" text-anchor="middle" textLength="39.5" lengthAdjust="spacingAndGlyphs">L8F02016B</text>
<text x="229.5" y="581.5" fill="#2a2a2a" font-size="7.4" text-anchor="start" textLength="167.1" lengthAdjust="spacingAndGlyphs">© Copyright, 2016. Jaguar Land Rover Limited.</text>
</svg>
</body></html>
